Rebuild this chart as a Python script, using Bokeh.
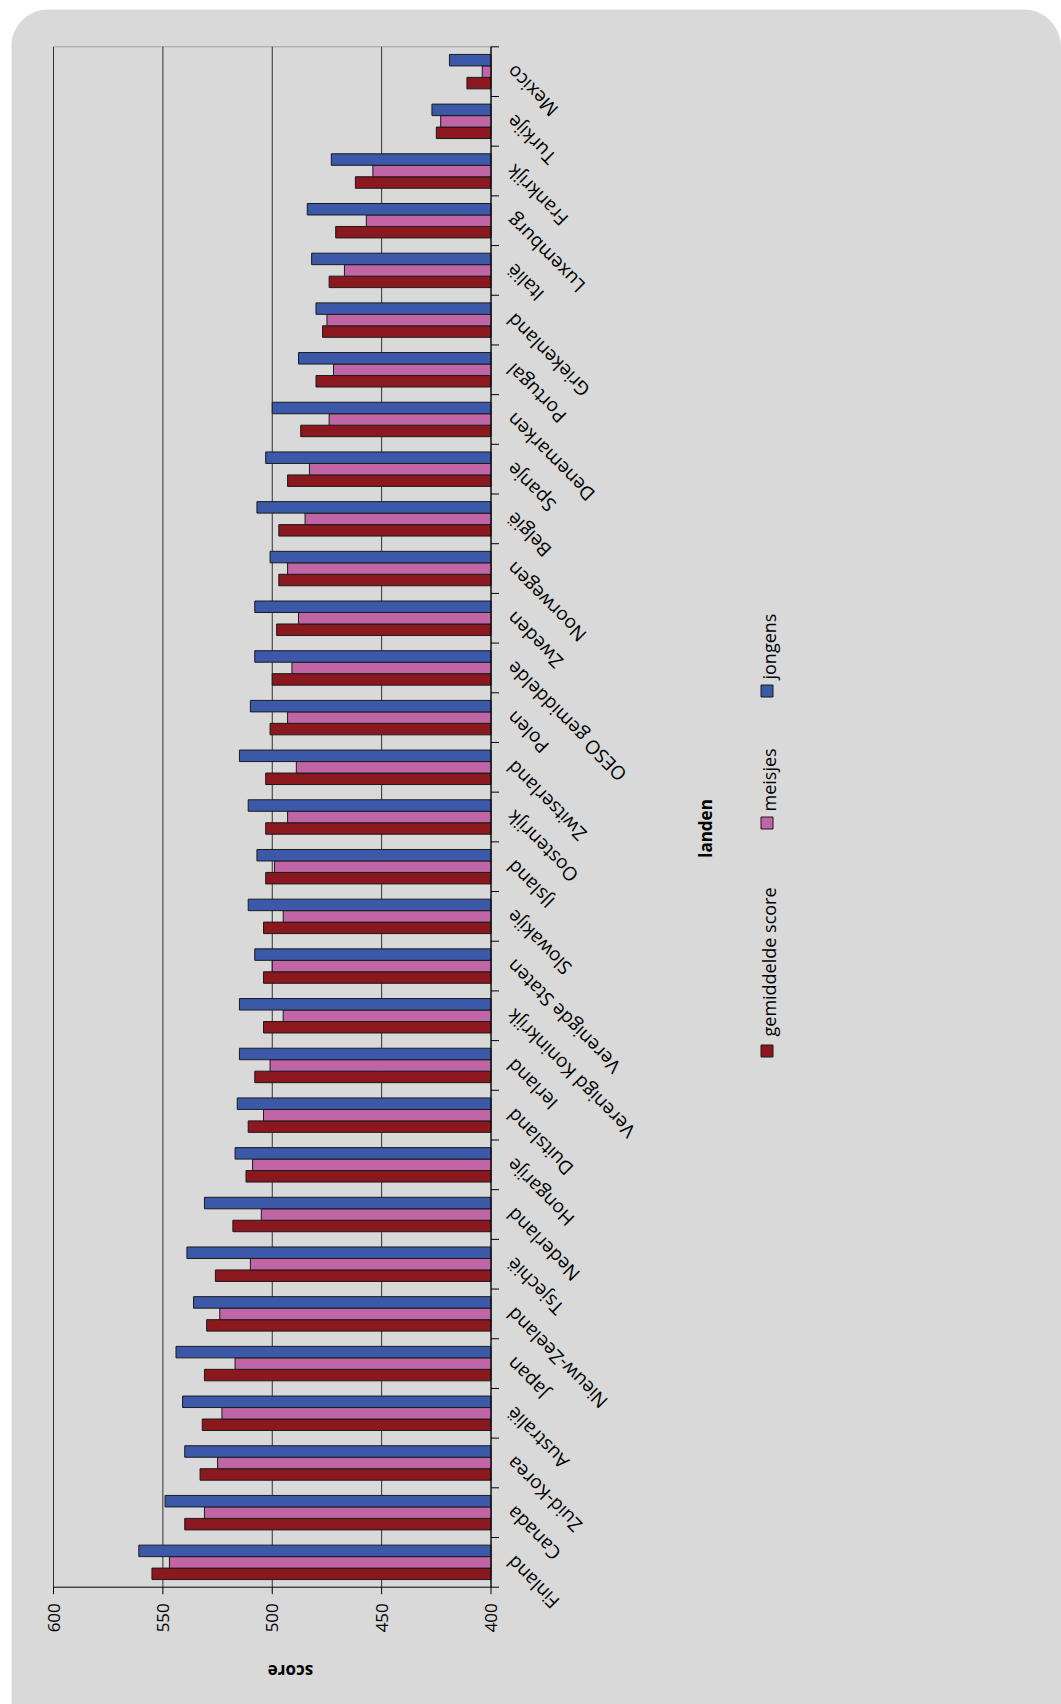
import math
from bokeh.plotting import figure
from bokeh.models import Range1d, Label, ColumnDataSource, Legend, LegendItem
from bokeh.transform import dodge
from bokeh.core.properties import value
from bokeh.embed import file_html
from bokeh.resources import INLINE

# ---- data (bottom to top) ----
countries = ["Finland", "Canada", "Zuid-Korea", "Australië", "Japan", "Nieuw-Zeeland",
             "Tsjechië", "Nederland", "Hongarije", "Duitsland", "Ierland",
             "Verenigd Koninkrijk", "Verenigde Staten", "Slowakije", "IJsland",
             "Oostenrijk", "Zwitserland", "Polen", "OESO gemiddelde", "Zweden",
             "Noorwegen", "België", "Spanje", "Denemarken", "Portugal", "Griekenland",
             "Italië", "Luxemburg", "Frankrijk", "Turkije", "Mexico"]
gemiddelde = [555, 540, 533, 532, 531, 530, 526, 518, 512, 511, 508, 504, 504, 504, 503,
              503, 503, 501, 500, 498, 497, 497, 493, 487, 480, 477, 474, 471, 462, 425, 411]
meisjes = [547, 531, 525, 523, 517, 524, 510, 505, 509, 504, 501, 495, 500, 495, 499,
           493, 489, 493, 491, 488, 493, 485, 483, 474, 472, 475, 467, 457, 454, 423, 404]
jongens = [561, 549, 540, 541, 544, 536, 539, 531, 517, 516, 515, 515, 508, 511, 507,
           511, 515, 510, 508, 508, 501, 507, 503, 500, 488, 480, 482, 484, 473, 427, 419]
series_names = ["gemiddelde score", "meisjes", "jongens"]
score_ticks = [400, 450, 500, 550, 600]
axis_title = "score"
cat_title = "landen"

# ---- style / geometry (pixels inside the figure) ----
BG = "#d9d9d9"
COLORS = ["#8b181e", "#c066a6", "#3b59a8"]
FONT = "Open Sans"
W, H = 1050, 1695
PL, PR = 42.0, 479.5        # plot-area left/right edge (px from figure left)
PT, PB = 37.3, 1577.7       # plot-area top/bottom edge (px from figure top)

n = len(countries)
vmin, vmax = score_ticks[0], score_ticks[-1]
ux = (PR - PL) / (vmax - vmin)          # px per score unit
uy = (PB - PT) / n                      # px per category slot
x_start = vmax + PL / ux                # left edge of figure (reversed axis)
x_end = vmin - (W - PR) / ux
y_end = n + PT / uy
y_start = -(H - PB) / uy

p = figure(width=W, height=H, output_backend="svg", toolbar_location=None,
           x_range=Range1d(x_start, x_end), y_range=Range1d(y_start, y_end),
           x_axis_location=None, y_axis_location=None,
           min_border=0, min_border_left=0, min_border_right=0,
           min_border_top=0, min_border_bottom=0)
p.border_fill_color = BG
p.background_fill_color = BG
p.outline_line_color = None
p.grid.visible = False
p.styles = {"border-radius": "38px 38px 0 0", "overflow": "hidden",
            "margin-left": "11px", "margin-top": "9px"}

src = ColumnDataSource(dict(country=countries, yc=[i + 0.5 for i in range(n)],
                            gem=gemiddelde, mei=meisjes, jon=jongens,
                            base=[vmin] * n))
tick_src = ColumnDataSource(dict(x=score_ticks, lab=[str(t) for t in score_ticks],
                                 y0=[0] * len(score_ticks), y1=[n] * len(score_ticks)))
bound_src = ColumnDataSource(dict(y=list(range(n + 1)), x=[vmin] * (n + 1)))

# plot-area top border and vertical gridlines
p.segment(x0=vmax, y0=n, x1=vmin, y1=n, line_color="#a0a0a0", line_width=1)
p.segment(x0="x", y0="y0", x1="x", y1="y1", source=tick_src, line_color="#303030", line_width=1)

# bars
bh = 0.231
renderers = []
for col, off, color in [("gem", -bh, COLORS[0]), ("mei", 0.0, COLORS[1]), ("jon", bh, COLORS[2])]:
    r = p.hbar(y=dodge("yc", off), left="base", right=col, height=bh,
               source=src, fill_color=color, line_color="#1a1a1a", line_width=1)
    renderers.append(r)

# value axis (bottom)
p.segment(x0=vmax, y0=0, x1=vmin, y1=0, line_color="black", line_width=1)
p.ray(x="x", y="y0", source=tick_src, length=7, length_units="screen",
      angle=-math.pi / 2, line_color="black", line_width=1)
p.text(x="x", y="y0", text="lab", source=tick_src, angle=math.pi / 2,
       text_align="right", text_baseline="middle", y_offset=16,
       text_font=value(FONT), text_font_size="17px", text_color="black")

# category axis (right), ticks at slot boundaries
p.segment(x0=vmin, y0=0, x1=vmin, y1=n, line_color="black", line_width=1)
p.ray(x="x", y="y", source=bound_src, length=8, length_units="screen", angle=0,
      line_color="black", line_width=1)
p.text(x="base", y="yc", text="country", source=src, angle=3 * math.pi / 4,
       text_align="right", text_baseline="middle", x_offset=19, y_offset=-3,
       text_font=value(FONT), text_font_size="19px", text_color="black")

# axis titles (screen px, origin bottom-left of figure)
p.add_layout(Label(x=279, y=33, x_units="screen", y_units="screen", text=axis_title,
                   angle=math.pi, text_align="center", text_baseline="middle",
                   text_font=FONT, text_font_size="17px", text_font_style="bold",
                   text_color="black"))
p.add_layout(Label(x=694, y=876, x_units="screen", y_units="screen", text=cat_title,
                   angle=math.pi / 2, text_align="center", text_baseline="middle",
                   text_font=FONT, text_font_size="17px", text_font_style="bold",
                   text_color="black"))

# legend (rotated texts + key squares)
leg_text_y = [668, 893, 1025]
leg_key_y = [646, 874, 1006]
for name, r, ty, ky in zip(series_names, renderers, leg_text_y, leg_key_y):
    p.add_layout(Label(x=757, y=ty, x_units="screen", y_units="screen", text=name,
                       angle=math.pi / 2, text_align="left", text_baseline="middle",
                       text_font=FONT, text_font_size="18px", text_color="black"))
    lg = Legend(items=[LegendItem(label=" ", renderers=[r])], location=(748, ky),
                glyph_width=15, glyph_height=15, label_width=0, label_height=0,
                label_standoff=0, label_text_font_size="1px", padding=0, margin=0,
                spacing=0, border_line_alpha=0, background_fill_alpha=0)
    p.add_layout(lg)

open("out.html", "w").write(file_html(p, INLINE))
